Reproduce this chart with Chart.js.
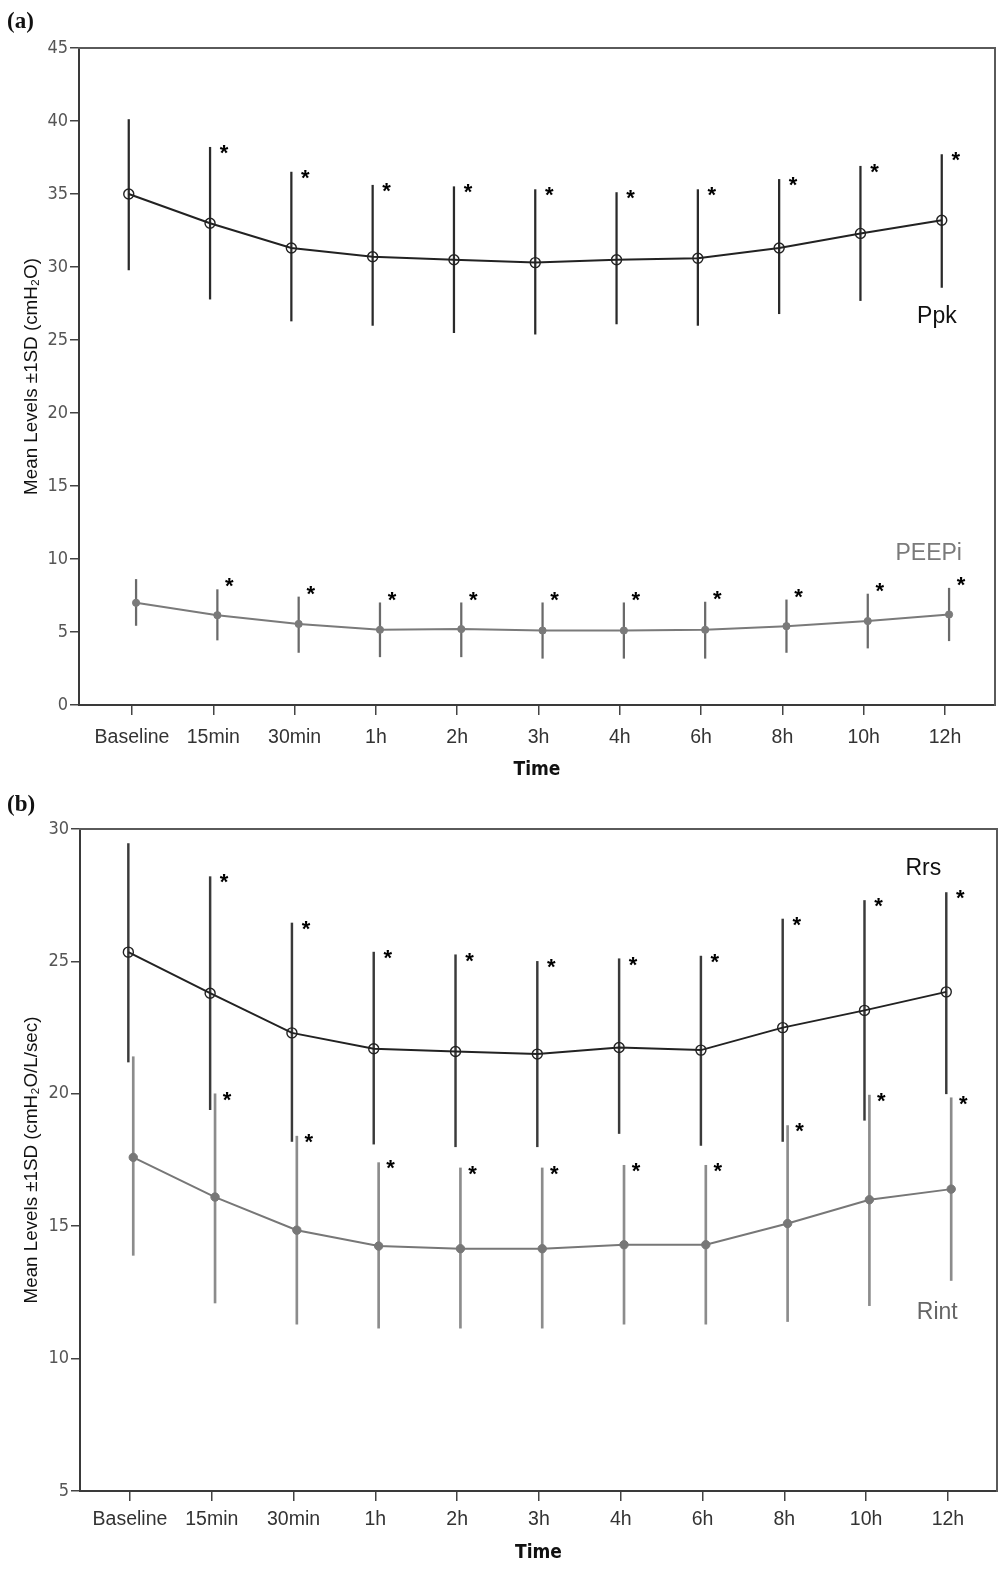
<!DOCTYPE html>
<html><head><meta charset="utf-8">
<script src="https://cdn.jsdelivr.net/npm/chart.js@4/dist/chart.umd.min.js"></script>
<style>
html,body{margin:0;padding:0;background:#fff;}
#wrap{position:relative;width:1004px;height:1571px;overflow:hidden;background:#fff;}
.panel{position:absolute;left:0;width:1004px;}
#pa{top:0;height:785px;}
#pb{top:785px;height:786px;}
.tag{position:absolute;left:7px;font:bold 23px "Liberation Serif","Times New Roman",serif;color:#111;line-height:26px;}
</style></head><body>
<div id="wrap">
<div class="panel" id="pa"><canvas id="ca" width="1004" height="785"></canvas></div>
<div class="panel" id="pb"><canvas id="cb" width="1004" height="786"></canvas></div>
<div class="tag" style="top:8px">(a)</div>
<div class="tag" style="top:791px">(b)</div>
</div>
<script>
// ---------- data ----------
const timeLabels = ['Baseline','15min','30min','1h','2h','3h','4h','6h','8h','10h','12h'];
const significant = [false,true,true,true,true,true,true,true,true,true,true];

// panel (a)
const ppkMean = [35.0, 33.0, 31.3, 30.7, 30.5, 30.3, 30.5, 30.6, 31.3, 32.3, 33.2];
const ppkLow  = [29.8, 27.8, 26.3, 26.0, 25.5, 25.4, 26.1, 26.0, 26.8, 27.7, 28.6];
const ppkHigh = [40.1, 38.2, 36.5, 35.6, 35.5, 35.3, 35.1, 35.3, 36.0, 36.9, 37.7];

const peepiMean = [7.0, 6.15, 5.55, 5.15, 5.2, 5.1, 5.1, 5.15, 5.4, 5.75, 6.2];
const peepiLow  = [5.45, 4.45, 3.6, 3.3, 3.3, 3.2, 3.2, 3.2, 3.6, 3.9, 4.4];
const peepiHigh = [8.6, 7.9, 7.4, 7.0, 7.0, 7.0, 7.0, 7.05, 7.2, 7.6, 8.0];

// panel (b)
const rrsMean = [25.35, 23.8, 22.3, 21.7, 21.6, 21.5, 21.75, 21.65, 22.5, 23.15, 23.85];
const rrsLow  = [21.2, 19.4, 18.2, 18.1, 18.0, 18.0, 18.5, 18.05, 18.2, 19.0, 20.0];
const rrsHigh = [29.45, 28.2, 26.45, 25.35, 25.25, 25.0, 25.1, 25.2, 26.6, 27.3, 27.6];

const rintMean = [17.6, 16.1, 14.85, 14.25, 14.15, 14.15, 14.3, 14.3, 15.1, 16.0, 16.4];
const rintLow  = [13.9, 12.1, 11.3, 11.15, 11.15, 11.15, 11.3, 11.3, 11.4, 12.0, 12.95];
const rintHigh = [21.4, 20.0, 18.4, 17.4, 17.2, 17.2, 17.3, 17.3, 18.8, 19.95, 19.85];

const yTitleA = 'Mean Levels \u00B11SD (cmH\u2082O)';
const yTitleB = 'Mean Levels \u00B11SD (cmH\u2082O/L/sec)';
const xTitle = 'Time';

// ---------- helpers ----------
Chart.defaults.font.family = '"Liberation Sans", Arial, sans-serif';
const NARROW = '"Liberation Sans Narrow", "Arial Narrow", "DejaVu Sans Condensed", "Liberation Sans", sans-serif';

const pts = (arr, dodge) => arr.map((v, i) => ({x: i + dodge, y: v}));
const rng = (lo, hi, dodge) => lo.map((v, i) => ({x: i + dodge, y: [v, hi[i]]}));

const framePlugin = {
  id: 'frame',
  afterDraw(chart) {
    const {ctx, chartArea: a} = chart;
    ctx.save();
    ctx.strokeStyle = '#5a5a5a';
    ctx.lineWidth = 2;
    ctx.beginPath();
    ctx.moveTo(a.left - 1, a.top);
    ctx.lineTo(a.right, a.top);
    ctx.lineTo(a.right, a.bottom + 1);
    ctx.stroke();
    ctx.restore();
  }
};

const starPlugin = {
  id: 'stars',
  afterDatasetsDraw(chart, args, opts) {
    const {ctx} = chart;
    const xs = chart.scales.x, ys = chart.scales.y;
    ctx.save();
    ctx.fillStyle = '#000';
    ctx.font = 'bold 22px "Liberation Sans", Arial, sans-serif';
    ctx.textAlign = 'center';
    ctx.textBaseline = 'alphabetic';
    (opts.groups || []).forEach(g => {
      g.high.forEach((h, i) => {
        if (!g.sig[i]) return;
        const px = xs.getPixelForValue(i + g.dodge) + g.dx;
        const py = ys.getPixelForValue(h) + g.dy + 0.58 * 22;
        ctx.fillText('*', px, py);
      });
    });
    ctx.restore();
  }
};

const labelPlugin = {
  id: 'seriesLabels',
  afterDatasetsDraw(chart, args, opts) {
    const {ctx} = chart;
    const xs = chart.scales.x, ys = chart.scales.y;
    ctx.save();
    ctx.textAlign = 'center';
    ctx.textBaseline = 'middle';
    (opts.items || []).forEach(it => {
      ctx.fillStyle = it.color;
      ctx.font = '23px "Liberation Sans", Arial, sans-serif';
      ctx.fillText(it.text, xs.getPixelForValue(it.x), ys.getPixelForValue(it.y));
    });
    ctx.restore();
  }
};

function makePanel(canvas, p) {
  return new Chart(canvas, {
    type: 'line',
    data: {
      datasets: [
        {type: 'bar', data: rng(p.s1.low, p.s1.high, p.s1.dodge), backgroundColor: p.s1.barColor,
         barThickness: p.s1.barW, grouped: false, order: 3},
        {type: 'bar', data: rng(p.s2.low, p.s2.high, p.s2.dodge), backgroundColor: p.s2.barColor,
         barThickness: p.s2.barW, grouped: false, order: 2},
        {type: 'line', data: pts(p.s2.mean, p.s2.dodge), borderColor: p.s2.lineColor, borderWidth: 2,
         pointRadius: p.s2.r, pointStyle: 'circle', pointBackgroundColor: p.s2.lineColor,
         pointBorderColor: p.s2.lineColor, pointBorderWidth: 1, tension: 0, order: 1},
        {type: 'line', data: pts(p.s1.mean, p.s1.dodge), borderColor: p.s1.lineColor, borderWidth: 2,
         pointRadius: 5, pointStyle: 'circle', pointBackgroundColor: 'rgba(255,255,255,0)',
         pointBorderColor: p.s1.lineColor, pointBorderWidth: 1.4, tension: 0, order: 0}
      ]
    },
    options: {
      responsive: false,
      animation: false,
      events: [],
      layout: {padding: {top: p.padTop, right: p.padRight, left: 0, bottom: 0}},
      plugins: {
        legend: {display: false},
        tooltip: {enabled: false},
        stars: {groups: [
          {high: p.s1.high, sig: significant, dx: 14, dy: 0, dodge: p.s1.dodge},
          {high: p.s2.high, sig: significant, dx: 12, dy: p.s2.starDy, dodge: p.s2.dodge}
        ]},
        seriesLabels: {items: p.labels}
      },
      scales: {
        x: {
          type: 'linear', min: p.xMin, max: p.xMax, offset: false,
          afterFit: (s) => { s.height = 80; },
          grid: {display: true, drawOnChartArea: false, drawTicks: true, tickLength: 10,
                 color: '#444', lineWidth: 1.5, offset: false},
          border: {display: true, color: '#3a3a3a', width: 2},
          ticks: {stepSize: 1, includeBounds: false, autoSkip: false, maxRotation: 0,
                  padding: p.xTickPad, color: '#333', font: {size: 19.5},
                  callback: (v) => Number.isInteger(v) && timeLabels[v] !== undefined ? timeLabels[v] : ''},
          title: {display: true, text: xTitle, color: '#111',
                  font: {family: NARROW, size: 19, weight: 'bold'},
                  padding: {top: 0, bottom: p.xTitlePad}}
        },
        y: {
          type: 'linear', min: p.yMin, max: p.yMax, beginAtZero: false,
          afterFit: (s) => { s.width = p.yWidth; },
          grid: {display: true, drawOnChartArea: false, drawTicks: true, tickLength: 9,
                 color: '#444', lineWidth: 1.5},
          border: {display: true, color: '#3a3a3a', width: 2},
          ticks: {stepSize: 5, padding: 2, color: '#555', font: {family: NARROW, size: 18}},
          title: {display: true, text: p.yTitle, color: '#111', font: {size: 18.8},
                  padding: {top: 21, bottom: 0}}
        }
      }
    },
    plugins: [framePlugin, starPlugin, labelPlugin]
  });
}

makePanel(document.getElementById('ca'), {
  padTop: 48, padRight: 9, yWidth: 79,
  xMin: -0.652, xMax: 10.615, yMin: 0, yMax: 45,
  xTickPad: 11, xTitlePad: 4, yTitle: yTitleA,
  s1: {mean: ppkMean, low: ppkLow, high: ppkHigh, lineColor: '#222', barColor: '#2a2a2a', barW: 1.6, dodge: -0.04},
  s2: {mean: peepiMean, low: peepiLow, high: peepiHigh, lineColor: '#7a7a7a', barColor: '#6a6a6a', barW: 1.6, r: 3.6, dodge: 0.05, starDy: -9},
  labels: [
    {text: 'Ppk', x: 9.9, y: 26.6, color: '#111'},
    {text: 'PEEPi', x: 9.8, y: 10.35, color: '#7a7a7a'}
  ]
});

makePanel(document.getElementById('cb'), {
  padTop: 44, padRight: 7, yWidth: 80,
  xMin: -0.611, xMax: 10.6, yMin: 5, yMax: 30,
  xTickPad: 7, xTitlePad: 7, yTitle: yTitleB,
  s1: {mean: rrsMean, low: rrsLow, high: rrsHigh, lineColor: '#222', barColor: '#3a3a3a', barW: 1.8, dodge: -0.02},
  s2: {mean: rintMean, low: rintLow, high: rintHigh, lineColor: '#777', barColor: '#8c8c8c', barW: 2, r: 4.2, dodge: 0.04, starDy: 0},
  labels: [
    {text: 'Rrs', x: 9.7, y: 28.5, color: '#111'},
    {text: 'Rint', x: 9.87, y: 11.75, color: '#666'}
  ]
});
</script>
</body></html>
